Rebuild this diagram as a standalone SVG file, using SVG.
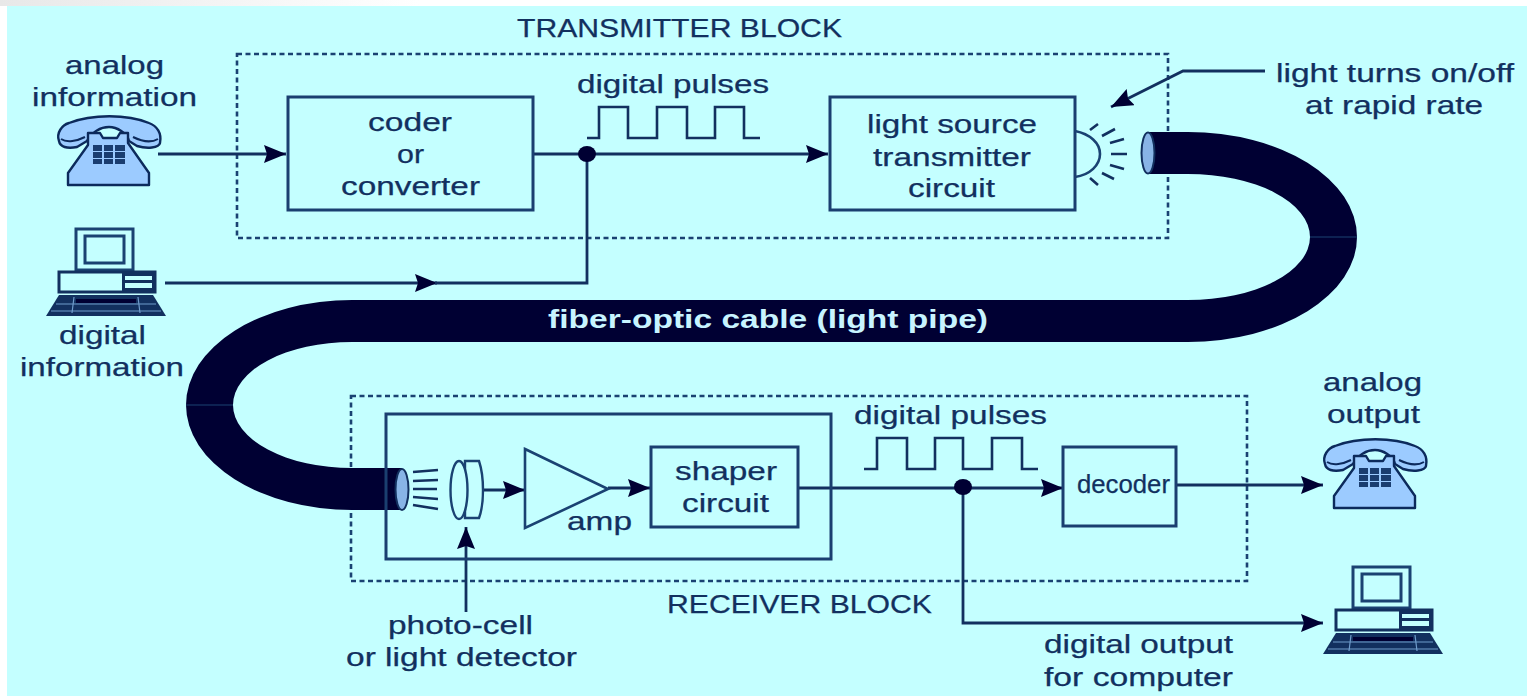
<svg xmlns="http://www.w3.org/2000/svg" width="1527" height="696" viewBox="0 0 1527 696">
<style>
text{font-family:"Liberation Sans",Arial,sans-serif;font-size:26px;fill:#12305f;stroke:#12305f;stroke-width:.25}
.b{fill:none;stroke:#1a3f70;stroke-width:3}
.d{fill:none;stroke:#1a4272;stroke-width:2.6;stroke-dasharray:5 3.5}
.c{fill:none;stroke:#12305f;stroke-width:2.8}
.t{fill:none;stroke:#12305f;stroke-width:2.6}
.k{fill:#1a3d70}
</style>
<defs>
<linearGradient id="g"><stop offset="0" stop-color="#e8e8e8"/><stop offset="1" stop-color="#ffffff"/></linearGradient>
<marker id="a" markerUnits="userSpaceOnUse" markerWidth="24" markerHeight="20" refX="22" refY="9" orient="auto"><path d="M0 0L22 9L0 18L3 9Z" fill="#000033"/></marker>
<g id="phone">
<path d="M2 26C-1 18 5 10 12 8C35 -1 70 -1 92 8C100 11 105 18 103 28C102 33 90 34 80 31L72 26C70 18 60 12 52 12C42 12 35 18 30 26L20 32C10 34 3 32 2 26Z" fill="#9ccbff" stroke="#0c2a5c" stroke-width="2.4" stroke-linejoin="round"/>
<path d="M4 24C10 28 20 26 28 22M101 24C94 28 84 26 76 22" fill="none" stroke="#0c2a5c" stroke-width="2"/>
<path d="M31 18H43L46 23H60L63 18H71V28L92 58V70H11V58L31 30Z" fill="#9ccbff" stroke="#0c2a5c" stroke-width="2.4" stroke-linejoin="round"/>
<g class="k"><rect x="36" y="30" width="9" height="6"/><rect x="47" y="30" width="9" height="6"/><rect x="58" y="30" width="10" height="6"/><rect x="36" y="37" width="9" height="6"/><rect x="47" y="37" width="9" height="6"/><rect x="58" y="37" width="10" height="6"/><rect x="36" y="44" width="9" height="5"/><rect x="47" y="44" width="9" height="5"/><rect x="58" y="44" width="10" height="5"/></g>
</g>
<g id="computer">
<rect x="30" y="1" width="57" height="41" fill="none" stroke="#1a4272" stroke-width="3"/>
<rect x="39" y="8" width="39" height="27" fill="none" stroke="#1a4272" stroke-width="3"/>
<rect x="13" y="44" width="96" height="20" fill="#c4ffff" stroke="#12305f" stroke-width="3"/>
<rect x="76" y="44" width="33" height="20" fill="#12305f"/>
<rect x="79" y="48" width="27" height="4" fill="#c4ffff"/><rect x="79" y="55" width="27" height="5" fill="#c4ffff"/>
<path d="M13 67H107L120 88H0Z" fill="#12305f"/>
<path d="M10 76H110M5 83H115M28 69L26 85M92 69L94 85" stroke="#6f9ccc" stroke-width="1.2" fill="none"/>
<path d="M30 71H90V75H30Z" fill="#000033"/>
</g>
</defs>
<rect width="1527" height="696" fill="#ffffff"/>
<rect x="0" y="0" width="420" height="6" fill="url(#g)"/>
<rect x="7" y="6" width="1520" height="690" fill="#c4ffff"/>

<g id="transmitter-block">
<rect class="d" x="237" y="54" width="931" height="184"/>
<text x="517" y="37" textLength="325" lengthAdjust="spacingAndGlyphs">TRANSMITTER BLOCK</text>
</g>
<g id="receiver-block">
<rect class="d" x="351" y="396" width="896" height="185"/>
<text x="667" y="613" textLength="265" lengthAdjust="spacingAndGlyphs">RECEIVER BLOCK</text>
</g>

<g id="connectors">
<path class="c" marker-end="url(#a)" d="M158 154H286"/>
<path class="c" marker-end="url(#a)" d="M534 154H828"/>
<path class="c" marker-end="url(#a)" d="M165 283H437"/>
<path class="c" d="M435 283H587V154"/>
<ellipse cx="587" cy="154" rx="9" ry="8" fill="#000033"/>
<path class="c" marker-end="url(#a)" d="M1265 71H1183L1111 107"/>
<path class="c" marker-end="url(#a)" d="M483 490H525"/>
<path class="c" marker-end="url(#a)" d="M608 488H650"/>
<path class="c" marker-end="url(#a)" d="M799 488H1063"/>
<path class="c" marker-end="url(#a)" d="M1177 485H1323"/>
<path class="c" marker-end="url(#a)" d="M963 488V623H1323"/>
<path class="c" marker-end="url(#a)" d="M466 612V527"/>
<ellipse cx="963" cy="487" rx="9" ry="8" fill="#000033"/>
</g>

<g id="cable">
<path d="M1147 132H1188A169 105 0 0 1 1188 342H352A119 63 0 0 0 352 468H402V510H352A166 105 0 0 1 352 300H1188A122 63 0 0 0 1188 174H1147Z" fill="#000033"/>
<path d="M1310 237H1357M186 405H233" stroke="#1a4272" stroke-width="1" fill="none"/>
<ellipse cx="1148" cy="153" rx="6.5" ry="20.5" fill="#88b4e6" stroke="#12305f" stroke-width="2"/>
<ellipse cx="402" cy="489.5" rx="6.5" ry="20.5" fill="#88b4e6" stroke="#12305f" stroke-width="2"/>
<text x="548" y="328" textLength="440" lengthAdjust="spacingAndGlyphs" style="font-weight:700;fill:#c8f4ff;stroke:none">fiber-optic cable (light pipe)</text>
</g>

<g id="analog-information">
<text x="65" y="74" textLength="99" lengthAdjust="spacingAndGlyphs">analog</text>
<text x="32" y="106" textLength="165" lengthAdjust="spacingAndGlyphs">information</text>
<use href="#phone" x="57" y="115"/>
</g>
<g id="digital-information">
<use href="#computer" x="46" y="228"/>
<text x="59" y="344" textLength="87" lengthAdjust="spacingAndGlyphs">digital</text>
<text x="20" y="376" textLength="164" lengthAdjust="spacingAndGlyphs">information</text>
</g>
<g id="coder">
<rect class="b" x="288" y="97" width="245" height="113"/>
<text x="368" y="131" textLength="84" lengthAdjust="spacingAndGlyphs">coder</text>
<text x="397" y="163" textLength="27" lengthAdjust="spacingAndGlyphs">or</text>
<text x="341" y="195" textLength="139" lengthAdjust="spacingAndGlyphs">converter</text>
</g>
<g id="pulses-top">
<text x="577" y="93" textLength="192" lengthAdjust="spacingAndGlyphs">digital pulses</text>
<path class="t" d="M587 138H599V107H628V138H657V107H687V138H715V107H744V138H760"/>
</g>
<g id="light-source">
<rect class="b" x="830" y="97" width="245" height="113"/>
<text x="867" y="133" textLength="170" lengthAdjust="spacingAndGlyphs">light source</text>
<text x="873" y="166" textLength="158" lengthAdjust="spacingAndGlyphs">transmitter</text>
<text x="908" y="197" textLength="87" lengthAdjust="spacingAndGlyphs">circuit</text>
<path d="M1075 131C1090 134 1100 143 1100 154C1100 165 1090 175 1075 177" fill="none" stroke="#1a4272" stroke-width="2.6"/>
<path class="t" d="M1090 130L1098 124M1102 136L1115 129M1110 143L1124 139M1111 154H1127M1110 165L1124 169M1102 173L1114 179M1090 178L1098 185"/>
</g>
<g id="light-label">
<text x="1276" y="82" textLength="238" lengthAdjust="spacingAndGlyphs">light turns on/off</text>
<text x="1305" y="114" textLength="178" lengthAdjust="spacingAndGlyphs">at rapid rate</text>
</g>

<g id="receiver-inner">
<rect class="b" x="386" y="414" width="445" height="145"/>
<path class="t" d="M413 472L438 470M413 481L438 480M413 489H437M413 497L438 499M413 505L438 509"/>
<path d="M465 461H479C482 470 483 480 483 490C483 500 482 510 479 518H465Z" fill="#c4ffff" stroke="#1a4272" stroke-width="2.4"/>
<ellipse cx="459" cy="490" rx="8.5" ry="29" fill="#c4ffff" stroke="#1a4272" stroke-width="2.4"/>
</g>
<g id="amp">
<path d="M525 449L608 489L525 528Z" fill="none" stroke="#1a4272" stroke-width="2.6"/>
<text x="567" y="530" textLength="65" lengthAdjust="spacingAndGlyphs">amp</text>
</g>
<g id="shaper">
<rect class="b" x="651" y="447" width="147" height="80"/>
<text x="675" y="480" textLength="102" lengthAdjust="spacingAndGlyphs">shaper</text>
<text x="682" y="512" textLength="87" lengthAdjust="spacingAndGlyphs">circuit</text>
</g>
<g id="pulses-bottom">
<text x="854" y="424" textLength="193" lengthAdjust="spacingAndGlyphs">digital pulses</text>
<path class="t" d="M864 469H877V438H907V469H935V438H963V469H992V438H1022V469H1038"/>
</g>
<g id="decoder">
<rect class="b" x="1063" y="447" width="113" height="79"/>
<text x="1077" y="493" textLength="93" lengthAdjust="spacingAndGlyphs">decoder</text>
</g>
<g id="analog-output">
<text x="1323" y="391" textLength="99" lengthAdjust="spacingAndGlyphs">analog</text>
<text x="1327" y="423" textLength="93" lengthAdjust="spacingAndGlyphs">output</text>
<use href="#phone" x="1323" y="438"/>
</g>
<g id="digital-output">
<use href="#computer" x="1323" y="566"/>
<text x="1044" y="653" textLength="189" lengthAdjust="spacingAndGlyphs">digital output</text>
<text x="1044" y="686" textLength="189" lengthAdjust="spacingAndGlyphs">for computer</text>
</g>
<g id="photo-cell">
<text x="388" y="634" textLength="145" lengthAdjust="spacingAndGlyphs">photo-cell</text>
<text x="346" y="666" textLength="231" lengthAdjust="spacingAndGlyphs">or light detector</text>
</g>
</svg>
